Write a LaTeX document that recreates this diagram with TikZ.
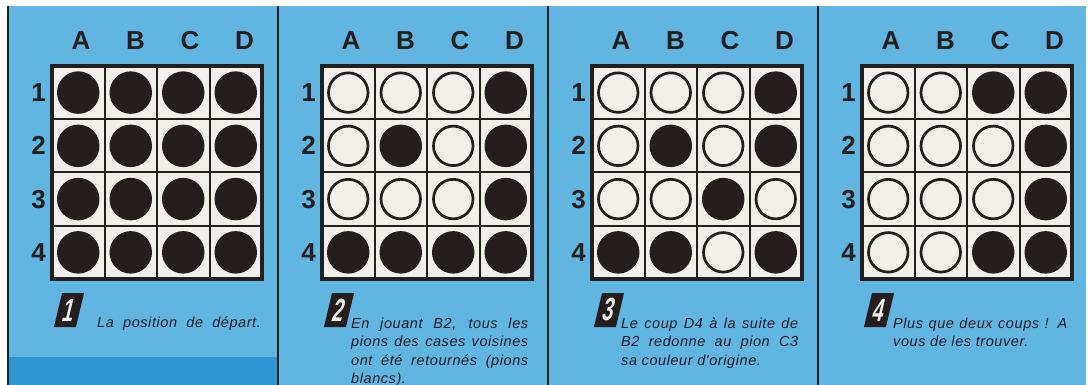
\documentclass[tikz,border=0pt]{standalone}
\usepackage{fontspec}
\setmainfont{Liberation Sans}
\newfontfamily\legendfont[LetterSpace=4]{Liberation Sans}
\usetikzlibrary{calc}

\definecolor{bgblue}{RGB}{96,182,224}
\definecolor{stripeblue}{RGB}{48,150,210}
\definecolor{cellwhite}{RGB}{241,239,234}
\definecolor{pionblack}{RGB}{36,30,30}
\definecolor{inkdark}{RGB}{28,28,40}

\begin{document}
\begin{tikzpicture}[x=1pt,y=-1pt,
  pionnoir/.style={circle,fill=pionblack,minimum size=42.5,inner sep=0},
  pionblanc/.style={circle,draw=pionblack,fill=cellwhite,line width=2.7,minimum size=39.5,inner sep=0},
  gridline/.style={draw=pionblack,line width=2},
  divider/.style={draw=pionblack,line width=1.5},
  collabel/.style={font=\fontsize{26}{26}\selectfont\bfseries,text=pionblack,inner sep=0},
  rowlabel/.style={font=\fontsize{26}{26}\selectfont\bfseries,text=pionblack,inner sep=0,anchor=east},
  badge/.style={fill=pionblack,text=cellwhite,xslant=0.24,transform shape,minimum width=22,minimum height=34,inner sep=0,font=\fontsize{32}{32}\selectfont\bfseries},
  legende/.style={font=\legendfont\itshape\fontsize{14.5}{18.5}\selectfont,text=inkdark,inner sep=0,anchor=base west,align=justify,text width=177}]
\useasboundingbox (0,0) rectangle (1088,385);
% ---------- page background ----------
\fill[white] (0,0) rectangle (1088,385);
\fill[bgblue] (8,6) rectangle (1086,385);
\fill[stripeblue] (8,357) rectangle (278,385);
\foreach \x in {8,278,548,818}
  \draw[divider] (\x,6) -- (\x,385);
% ---------- the four boards (1 = white pion, 0 = black pion) ----------
\foreach \pan/\L/\etat in {
    1/52/{0,0,0,0, 0,0,0,0, 0,0,0,0, 0,0,0,0},
    2/322/{1,1,1,0, 1,0,1,0, 1,1,1,0, 0,0,0,0},
    3/592/{1,1,1,0, 1,0,1,0, 1,1,0,1, 0,0,1,0},
    4/862/{1,1,0,0, 1,1,1,0, 1,1,1,0, 1,1,0,0}} {
  % squares
  \fill[cellwhite] (\L,66) rectangle ++(210,213);
  \foreach \i in {1,2,3} {
    \draw[gridline] (\L+52.5*\i,66) -- (\L+52.5*\i,279);
    \draw[gridline] (\L,66+53.25*\i) -- (\L+210,66+53.25*\i);
  }
  \draw[pionblack,line width=3.5] (\L,66) rectangle ++(210,213);
  % column and row labels
  \foreach \c [count=\i from 0] in {A,B,C,D}
    \node[collabel] (col\pan\c) at (\L+29+54.5*\i,41) {\c};
  \foreach \r [count=\i from 0] in {1,2,3,4}
    \node[rowlabel] (row\pan\r) at (\L-6,66+26.6+53.25*\i) {\r};
  % pions
  \foreach \s [count=\k from 0] in \etat {
    \pgfmathtruncatemacro\col{mod(\k,4)}
    \pgfmathtruncatemacro\row{div(\k,4)}
    \ifnum\s=1
      \node[pionblanc] (p\pan-\k) at (\L+26.25+52.5*\col,66+26.6+53.25*\row) {};
    \else
      \node[pionnoir] (p\pan-\k) at (\L+26.25+52.5*\col,66+26.6+53.25*\row) {};
    \fi
  }
  % number badge
  \node[badge] (badge\pan) at (\L+17,310) {\scalebox{0.62}[1]{\pan}};
}
% ---------- captions ----------
\node[legende] (txt1) at (97,327) {La\ \ position\ \ de\ \ départ.};
\node[legende] (txt2) at (351,328) {En jouant B2, tous les\linebreak pions des cases voisines\linebreak ont été retournés (pions\linebreak blancs).};
\node[legende] (txt3) at (621,328) {Le coup D4 à la suite de\linebreak B2 redonne au pion C3\linebreak sa couleur d'origine.};
\node[legende,text width=174] (txt4) at (893,328) {Plus que deux coups ! A\linebreak vous de les trouver.};
\end{tikzpicture}
\end{document}
